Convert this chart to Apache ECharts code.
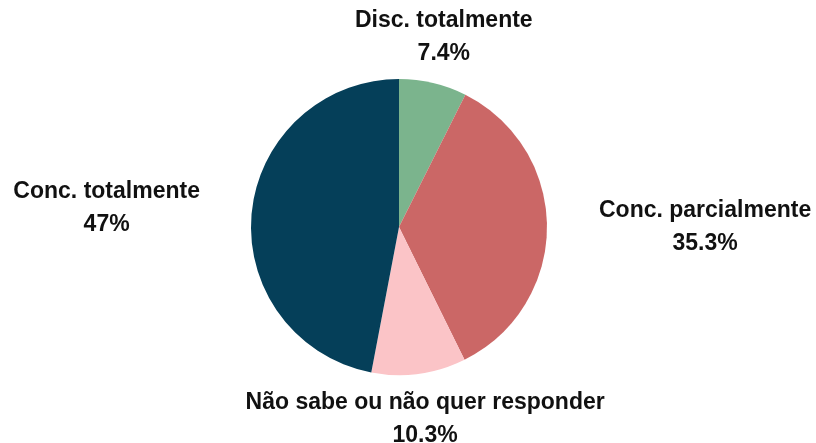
<!DOCTYPE html>
<html>
<head>
<meta charset="utf-8">
<script src="https://cdn.jsdelivr.net/npm/echarts@6/dist/echarts.min.js"></script>
<style>
  html, body { margin: 0; padding: 0; background: #ffffff; }
  #chart { width: 816px; height: 443px; }
</style>
</head>
<body>
<div id="chart"></div>
<script>
// Survey answers, clockwise from 12 o'clock
const categories = ['Disc. totalmente', 'Conc. parcialmente', 'Não sabe ou não quer responder', 'Conc. totalmente'];
const shares = [7.4, 35.3, 10.3, 47];
const sliceColors = ['#7bb48d', '#cb6766', '#fbc4c7', '#053f59'];

const CX = 399, CY = 227, R = 148;

const total = shares.reduce((a, b) => a + b, 0);
// mid-angle of each slice, radians measured clockwise from the top
const midAngles = [];
let acc = 0;
shares.forEach(v => {
  midAngles.push(((acc + v / 2) / total) * Math.PI * 2);
  acc += v;
});

const chart = echarts.init(document.getElementById('chart'));
chart.setOption({
  animation: false,
  backgroundColor: '#ffffff',
  series: [{
    type: 'pie',
    center: [CX, CY],
    radius: [0, R],
    startAngle: 90,
    clockwise: true,
    avoidLabelOverlap: false,
    data: categories.map((name, i) => ({
      name: name,
      value: shares[i],
      itemStyle: { color: sliceColors[i] }
    })),
    label: {
      show: true,
      position: 'outside',
      formatter: p => p.name + '\n' + p.value + '%',
      color: '#111111',
      fontFamily: '"Liberation Sans", Arial, sans-serif',
      fontWeight: 'bold',
      fontSize: 23,
      lineHeight: 33,
      align: 'center'
    },
    labelLine: { show: false },
    labelLayout: function (params) {
      const a = midAngles[params.dataIndex];
      const s = Math.sin(a), c = -Math.cos(a);
      const d = R + 45 + 7 * Math.abs(s);
      let x = CX + s * d;
      const y = CY + c * d;
      if (Math.abs(s) > 0.7) x += Math.sign(s) * params.labelRect.width / 2;
      return { x: x, y: y, align: 'center', verticalAlign: 'middle' };
    },
    emphasis: { disabled: true }
  }]
});
</script>
</body>
</html>
